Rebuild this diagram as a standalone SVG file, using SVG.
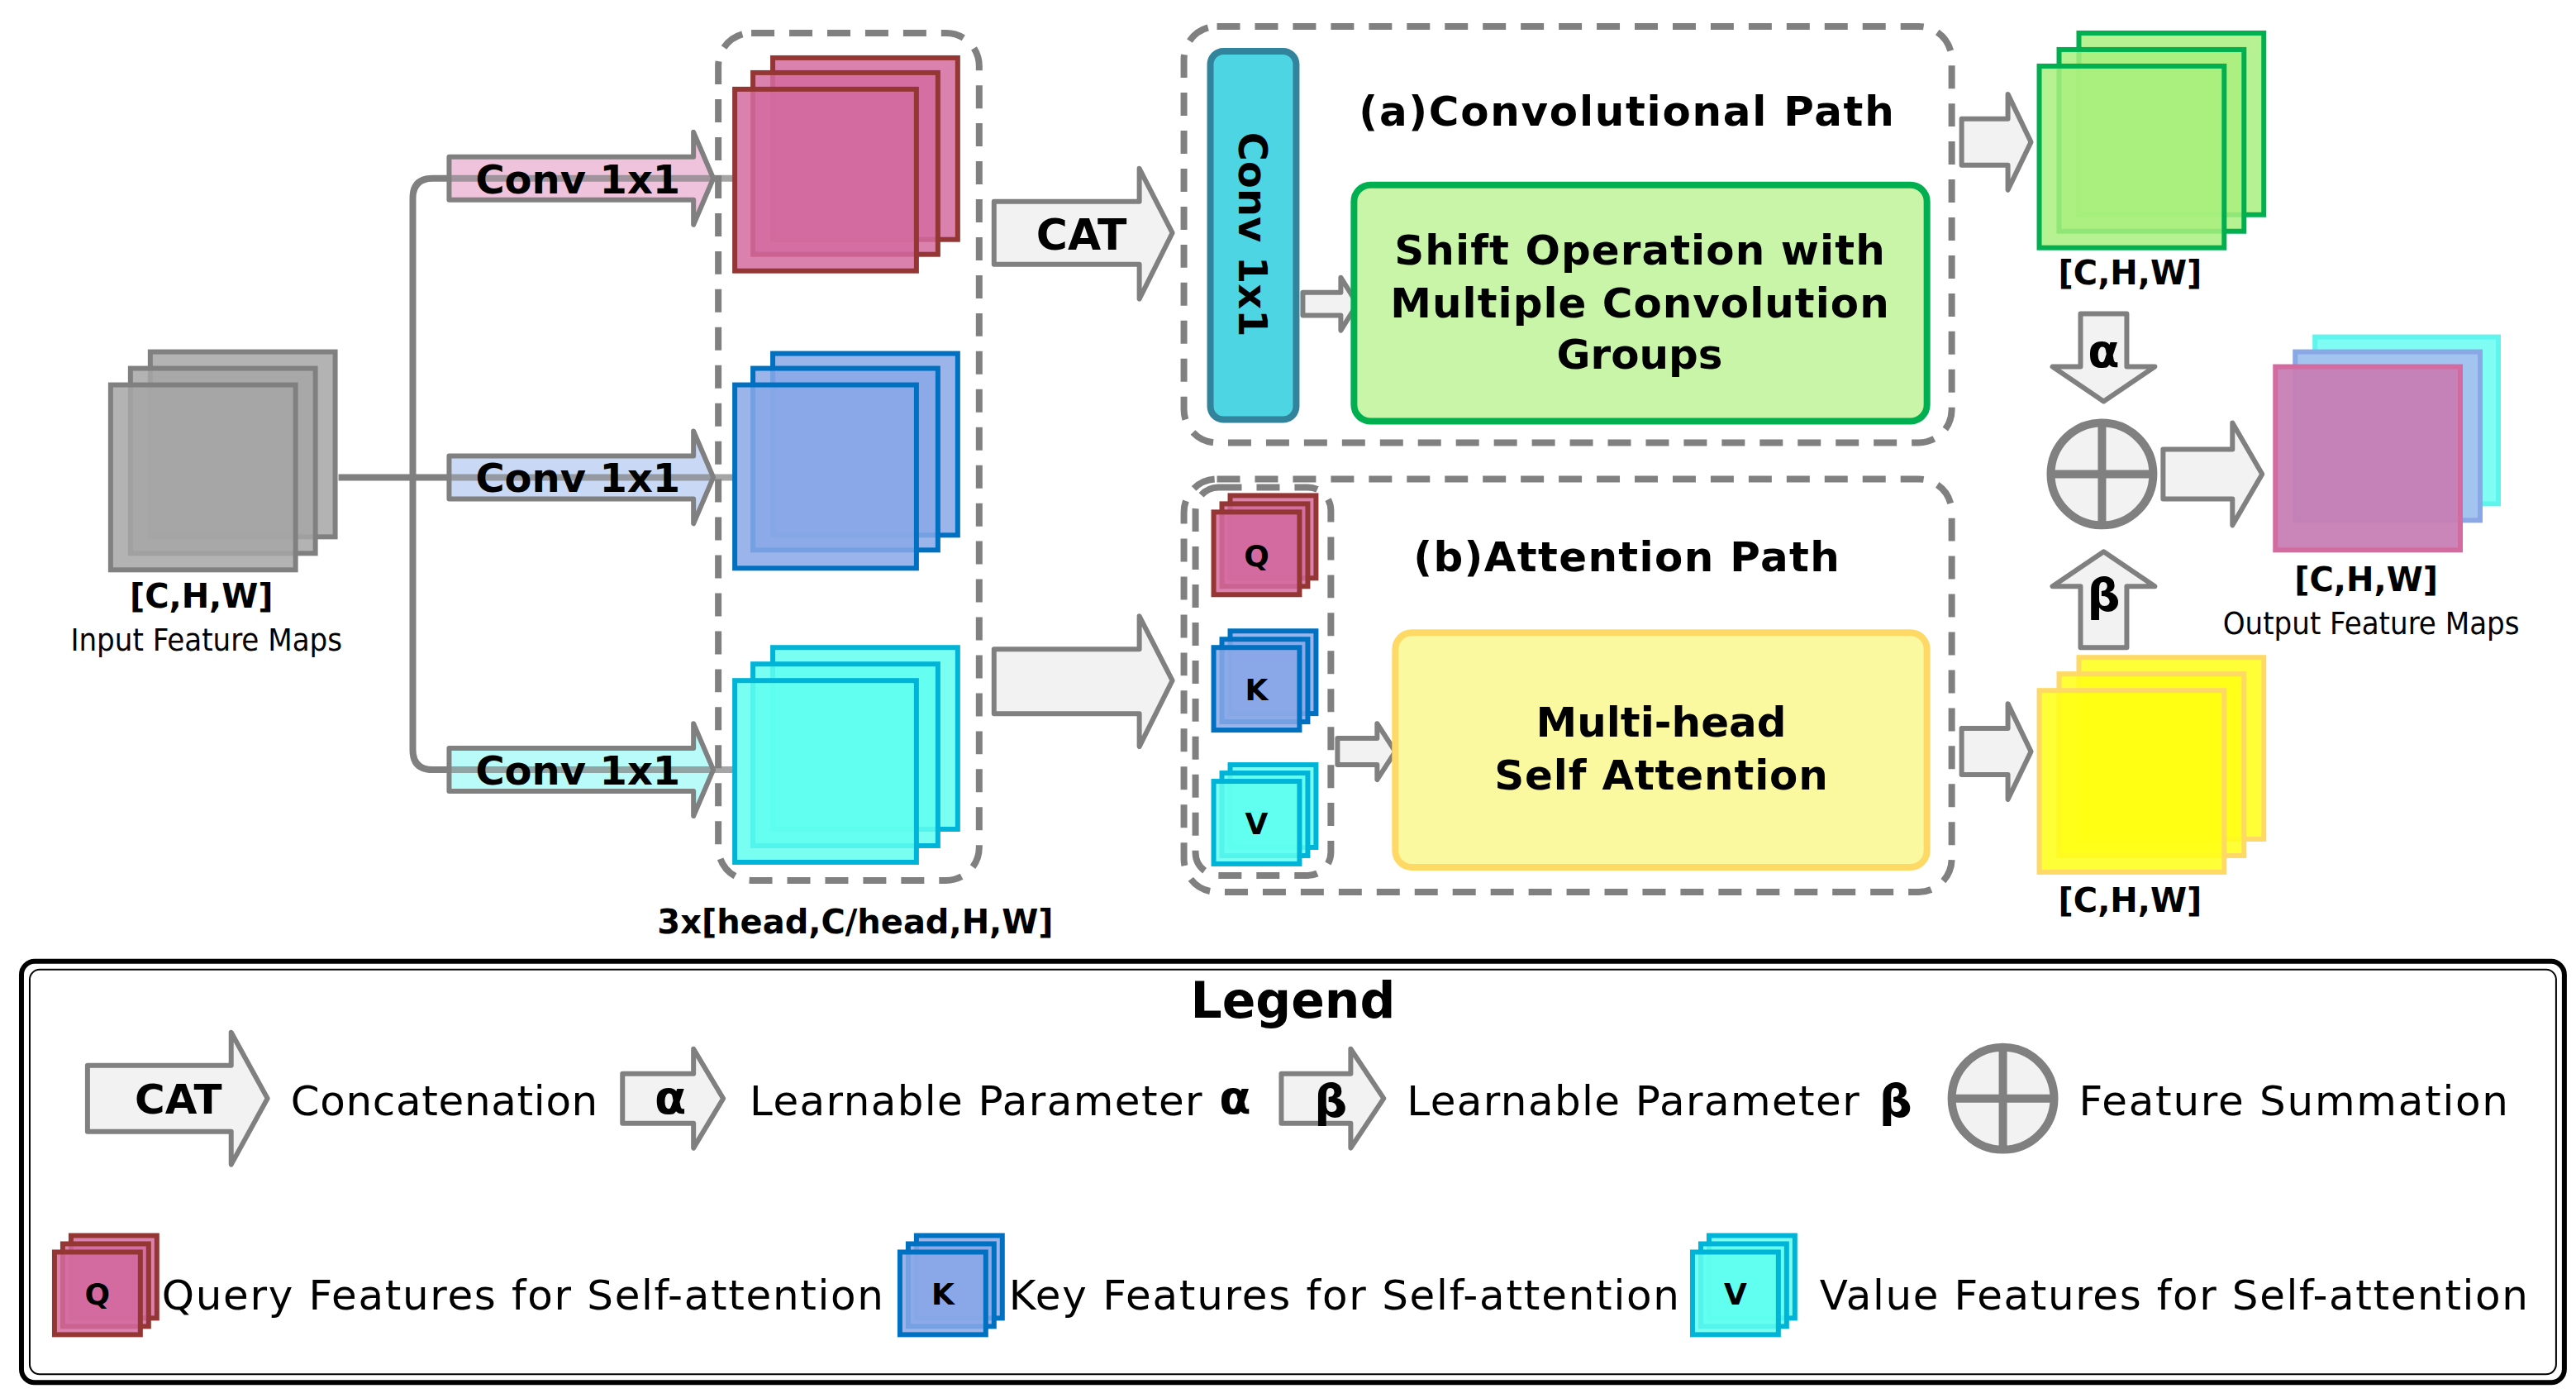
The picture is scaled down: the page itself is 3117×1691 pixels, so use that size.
<svg xmlns="http://www.w3.org/2000/svg" width="3117" height="1691" viewBox="0 0 3117 1691">
<defs><style>
.arr{fill:#f2f2f2;stroke:#808080;stroke-width:3;stroke-linejoin:round}
.dash{fill:none;stroke:#808080;stroke-width:4;stroke-dasharray:14 9}
.b{font-family:"DejaVu Sans",sans-serif;font-weight:bold;fill:#000}
.r{font-family:"DejaVu Sans",sans-serif;fill:#000}
.n{font-family:"DejaVu Sans Condensed","DejaVu Sans",sans-serif;fill:#000}
.gry rect{fill:#a6a6a6;stroke:#808080;stroke-width:3;fill-opacity:.85}
.pnk rect{fill:#d36ba0;stroke:#943634;stroke-width:3;fill-opacity:.85}
.blu rect{fill:#8aa8e6;stroke:#0070c0;stroke-width:3;fill-opacity:.85}
.cyn rect{fill:#60fff0;stroke:#00b4d8;stroke-width:3;fill-opacity:.85}
.grn rect{fill:#a9f07e;stroke:#00b050;stroke-width:3;fill-opacity:.85}
.yel rect{fill:#ffff14;stroke:#ffd966;stroke-width:3;fill-opacity:.85}
</style></defs>
<rect width="3117" height="1691" fill="#fff"/>
<g transform="scale(1.998)">
<g id="connectors">
<path d="M205,289 H272 M272,108 H262 Q250,108 250,120 V454 Q250,466 262,466 H272" fill="none" stroke="#808080" stroke-width="4"/>
<polygon class="arr" style="fill:#f0c3dc" points="272,95 420,95 420,80 432,108 420,136 420,121 272,121"/>
<polygon class="arr" style="fill:#c9d9f5" points="272,276 420,276 420,261 432,289 420,317 420,302 272,302"/>
<polygon class="arr" style="fill:#b9fbf8" points="272,453 420,453 420,438 432,466 420,494 420,479 272,479"/>
<path d="M272,108 H445 M272,289 H445 M272,466 H445" stroke="#808080" stroke-width="4" opacity=".7"/>
<text class="b" x="350" y="117" font-size="24" text-anchor="middle">Conv 1x1</text>
<text class="b" x="350" y="298" font-size="24" text-anchor="middle">Conv 1x1</text>
<text class="b" x="350" y="475" font-size="24" text-anchor="middle">Conv 1x1</text>
<polygon class="arr" points="602,122 690,122 690,102 710,141 690,181 690,160 602,160"/>
<text class="b" x="655" y="151" font-size="26" text-anchor="middle">CAT</text>
<polygon class="arr" points="602,393 690,393 690,373 710,412 690,452 690,432 602,432"/>
<polygon class="arr" points="789,177 812,177 812,168 822,184 812,200 812,191 789,191"/>
<polygon class="arr" points="810,447 834,447 834,438 845,455 834,472 834,463 810,463"/>
<polygon class="arr" points="1188,72 1216,72 1216,57 1230,86 1216,115 1216,100 1188,100"/>
<polygon class="arr" points="1188,441 1216,441 1216,426 1230,455 1216,484 1216,469 1188,469"/>
<polygon class="arr" points="1260,190 1288,190 1288,222 1305,222 1274,243 1243,222 1260,222"/>
<text class="b" x="1274" y="222" font-size="28" text-anchor="middle">α</text>
<polygon class="arr" points="1260,392 1288,392 1288,355 1305,355 1274,334 1243,355 1260,355"/>
<text class="b" x="1274" y="370" font-size="28" text-anchor="middle">β</text>
<polygon class="arr" points="1310,272 1352,272 1352,256 1370,287 1352,318 1352,302 1310,302"/>
</g>
<g id="input"><g class="gry"><rect x="91" y="213" width="112" height="112"/><rect x="79" y="223" width="112" height="112"/><rect x="67" y="233" width="112" height="112"/></g>
<text class="b" x="122" y="368" font-size="20" text-anchor="middle">[C,H,W]</text>
<text class="n" x="125" y="394" font-size="19" text-anchor="middle">Input Feature Maps</text></g>
<g id="qkvmaps">
<rect class="dash" x="435" y="20" width="158" height="513" rx="20"/>
<g class="pnk"><rect x="468" y="35" width="112" height="110"/><rect x="456" y="44" width="112" height="110"/><rect x="445" y="54" width="110" height="110"/></g>
<g class="blu"><rect x="468" y="214" width="112" height="110"/><rect x="456" y="223" width="112" height="110"/><rect x="445" y="233" width="110" height="111"/></g>
<g class="cyn"><rect x="468" y="392" width="112" height="110"/><rect x="456" y="402" width="112" height="110"/><rect x="445" y="412" width="110" height="110"/></g>
<text class="b" x="518" y="565" font-size="20" text-anchor="middle">3x[head,C/head,H,W]</text></g>
<g id="convpath">
<rect class="dash" x="717" y="16" width="465" height="252" rx="20"/>
<rect x="733" y="31" width="52" height="223" rx="8" fill="#4dd5e3" stroke="#31849b" stroke-width="4"/>
<text class="b" transform="translate(750,142) rotate(90)" font-size="24" text-anchor="middle">Conv 1x1</text>
<text class="b" x="985" y="76" font-size="25" text-anchor="middle" textLength="324">(a)Convolutional Path</text>
<rect x="820" y="112" width="347" height="143" rx="10" fill="#c8f5a8" stroke="#00b050" stroke-width="4"/>
<text class="b" font-size="25" text-anchor="middle"><tspan x="993" y="160" textLength="297">Shift Operation with</tspan><tspan x="993" y="192" textLength="302">Multiple Convolution</tspan><tspan x="993" y="223">Groups</tspan></text></g>
<g id="attnpath">
<rect class="dash" x="717" y="290" width="465" height="250" rx="20"/>
<rect class="dash" x="724" y="295" width="82" height="235" rx="14"/>
<g class="pnk"><rect x="745" y="300" width="52" height="50"/><rect x="740" y="305" width="52" height="50"/><rect x="735" y="310" width="52" height="50"/></g>
<text class="b" x="761" y="343" font-size="18" text-anchor="middle">Q</text>
<g class="blu"><rect x="745" y="382" width="52" height="50"/><rect x="740" y="387" width="52" height="50"/><rect x="735" y="392" width="52" height="50"/></g>
<text class="b" x="761" y="424" font-size="18" text-anchor="middle">K</text>
<g class="cyn"><rect x="745" y="463" width="52" height="50"/><rect x="740" y="468" width="52" height="50"/><rect x="735" y="473" width="52" height="50"/></g>
<text class="b" x="761" y="505" font-size="18" text-anchor="middle">V</text>
<text class="b" x="985" y="346" font-size="25" text-anchor="middle" textLength="258">(b)Attention Path</text>
<rect x="845" y="383" width="322" height="142" rx="10" fill="#faf9a0" stroke="#ffd966" stroke-width="4"/>
<text class="b" font-size="25" text-anchor="middle"><tspan x="1006" y="446">Multi-head</tspan><tspan x="1006" y="478" textLength="202">Self Attention</tspan></text></g>
<g id="convout"><g class="grn"><rect x="1259" y="20" width="112" height="110"/><rect x="1247" y="30" width="112" height="110"/><rect x="1235" y="40" width="112" height="110"/></g>
<text class="b" x="1290" y="172" font-size="20" text-anchor="middle">[C,H,W]</text></g>
<g id="attnout"><g class="yel"><rect x="1259" y="398" width="112" height="110"/><rect x="1247" y="408" width="112" height="110"/><rect x="1235" y="418" width="112" height="110"/></g>
<text class="b" x="1290" y="552" font-size="20" text-anchor="middle">[C,H,W]</text></g>
<g id="sum"><circle cx="1273" cy="287" r="31" fill="#f2f2f2" stroke="#808080" stroke-width="5"/><path d="M1242,287 H1304 M1273,256 V318" stroke="#808080" stroke-width="5"/></g>
<g id="output">
<rect x="1402" y="204" width="111" height="101" fill="#7ffcf4" stroke="#5ef5ef" stroke-width="3"/>
<rect x="1390" y="213" width="112" height="102" fill="#a3c4ee" stroke="#8aa8e6" stroke-width="3"/>
<rect x="1378" y="222" width="112" height="111" fill="#c77eb5" stroke="#d36ba0" stroke-width="3" fill-opacity=".95"/>
<text class="b" x="1433" y="358" font-size="20" text-anchor="middle">[C,H,W]</text>
<text class="n" x="1436" y="384" font-size="19" text-anchor="middle">Output Feature Maps</text></g>
<g id="legend">
<rect x="13" y="582" width="1540" height="255" rx="8" fill="none" stroke="#000" stroke-width="3"/>
<rect x="18" y="587" width="1530" height="245" rx="6" fill="none" stroke="#000" stroke-width="1"/>
<text class="b" x="783" y="616" font-size="30" text-anchor="middle">Legend</text>
<polygon class="arr" points="53,645 140,645 140,625 162,665 140,705 140,685 53,685"/>
<text class="b" x="108" y="674" font-size="25" text-anchor="middle">CAT</text>
<text class="r" x="176" y="675" font-size="25" textLength="186">Concatenation</text>
<polygon class="arr" points="377,650 420,650 420,635 438,665 420,695 420,680 377,680"/>
<text class="b" x="406" y="674" font-size="28" text-anchor="middle">α</text>
<text class="r" x="454" y="675" font-size="25" textLength="274">Learnable Parameter</text>
<text class="b" x="748" y="674" font-size="28" text-anchor="middle">α</text>
<polygon class="arr" points="776,650 818,650 818,635 838,665 818,695 818,680 776,680"/>
<text class="b" x="806" y="676" font-size="28" text-anchor="middle">β</text>
<text class="r" x="852" y="675" font-size="25" textLength="274">Learnable Parameter</text>
<text class="b" x="1148" y="676" font-size="28" text-anchor="middle">β</text>
<circle cx="1213" cy="665" r="31" fill="#f2f2f2" stroke="#808080" stroke-width="5"/><path d="M1182,665 H1244 M1213,634 V696" stroke="#808080" stroke-width="5"/>
<text class="r" x="1259" y="675" font-size="25" textLength="260">Feature Summation</text>
<g class="pnk"><rect x="43" y="748" width="52" height="50"/><rect x="38" y="753" width="52" height="50"/><rect x="33" y="758" width="52" height="50"/></g>
<text class="b" x="59" y="790" font-size="18" text-anchor="middle">Q</text>
<text class="r" x="98" y="793" font-size="25" textLength="437">Query Features for Self-attention</text>
<g class="blu"><rect x="555" y="748" width="52" height="50"/><rect x="550" y="753" width="52" height="50"/><rect x="545" y="758" width="52" height="50"/></g>
<text class="b" x="571" y="790" font-size="18" text-anchor="middle">K</text>
<text class="r" x="611" y="793" font-size="25" textLength="406">Key Features for Self-attention</text>
<g class="cyn"><rect x="1035" y="748" width="52" height="50"/><rect x="1030" y="753" width="52" height="50"/><rect x="1025" y="758" width="52" height="50"/></g>
<text class="b" x="1051" y="790" font-size="18" text-anchor="middle">V</text>
<text class="r" x="1102" y="793" font-size="25" textLength="429">Value Features for Self-attention</text>
</g>
</g>
</svg>
